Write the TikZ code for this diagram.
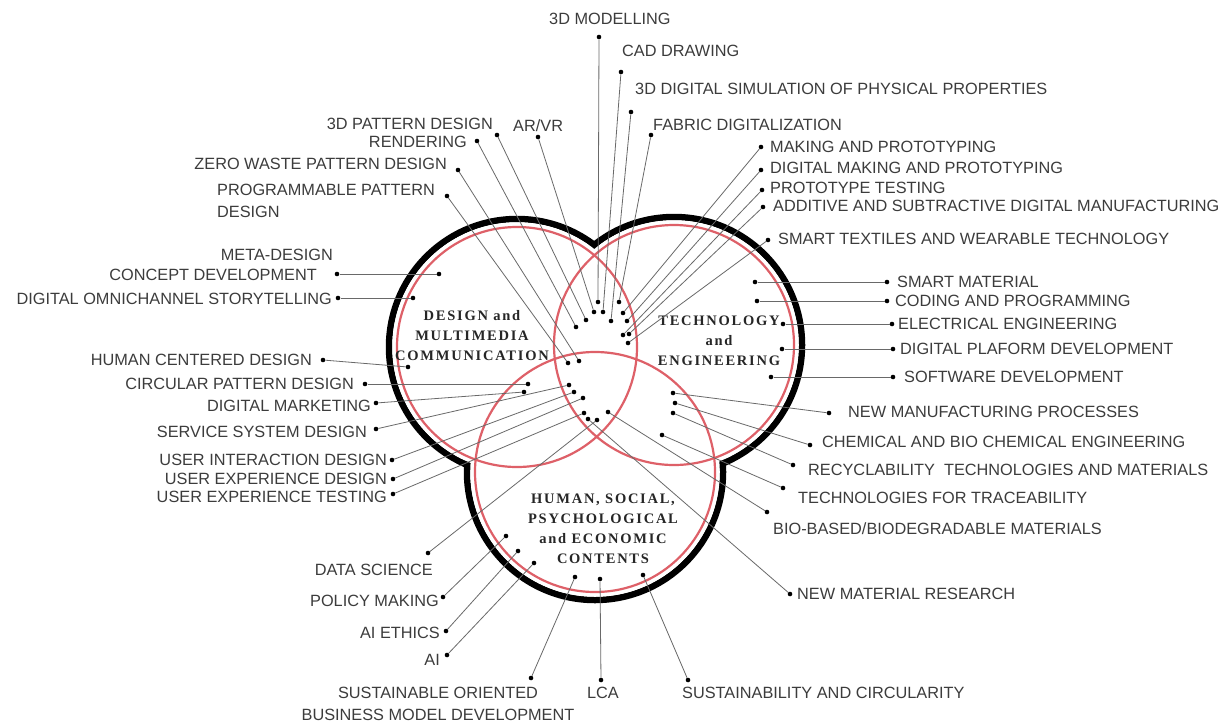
\documentclass[tikz,border=0pt]{standalone}
\usepackage{fontspec}
\setmainfont{Liberation Sans}
\newfontfamily\fieldfont[LetterSpace=12]{Liberation Serif}
\definecolor{ringred}{RGB}{222,96,104}
\definecolor{labelgray}{RGB}{60,60,60}
\definecolor{wiregray}{RGB}{105,105,105}
\begin{document}
\begin{tikzpicture}[x=1pt,y=-1pt,
  lbl/.style={font=\fontsize{16.3}{21}\selectfont, text=labelgray, inner sep=0pt, text height=11.7pt, text depth=0pt},
  lblmulti/.style={font=\fontsize{16.3}{22}\selectfont, text=labelgray, inner sep=0pt},
  ldot/.style={circle, fill=black, inner sep=0pt, minimum size=4.6pt},
  wire/.style={draw=wiregray, line width=0.8pt},
  ring/.style={draw=ringred, line width=2.2pt},
  hull/.style={draw=black, line width=6.5pt},
  field/.style={font=\fieldfont\bfseries\fontsize{14.5}{20}\selectfont, text=black!85, align=center, inner sep=0pt, anchor=north}]

\useasboundingbox (0,0) rectangle (1220,726);
\fill[white] (0,0) rectangle (1220,726);

% centres of the three fields
\coordinate (cD) at (517,347);
\coordinate (cT) at (674,345);
\coordinate (cH) at (595,472);

% thick outer contour: union of the three discs
\foreach \c in {cD,cT,cH} \draw[hull] (\c) circle[radius=128pt];
\foreach \c in {cD,cT,cH} \fill[white] (\c) circle[radius=124.75pt];

% the three fields
\foreach \c in {cD,cT,cH} \draw[ring] (\c) circle[radius=120pt];

% field titles
\node[field] (fD) at (472,310.2) {DESIGN and\\MULTIMEDIA\\COMMUNICATION};
\node[field] (fT) at (719,316) {TECHNOLOGY\\and\\ENGINEERING};
\node[field] (fH) at (603,493.2) {HUMAN, SOCIAL,\\PSYCHOLOGICAL\\and ECONOMIC\\CONTENTS};

% connectors: outer dot -> inner dot
\foreach \n/\ax/\ay/\bx/\by in {
  mod/599/37/598/302, cad/621/72/603/312, sim/631/112/611/321, fab/651/135/619/302,
  pat/497/135/586/320, ren/477/141/576/327, arvr/538/137/594/312, zero/458/170/579/361,
  prog/447/196/568/363,
  mak/761/147/623/313, dmak/761/170/627/321, ptest/762/190/623/335, add/763/207/629/334,
  stx/768/240/628/343,
  smat/887/282/755/282, cod/887/301/757/301, elec/892/324/783/324, dplat/893/349/782/349,
  soft/893/377/771/377, nman/829/413/673/393, chem/810/445/675/403, recy/793/465/673/413,
  trace/783/488/662/435, bio/767/512/608/412, nmr/790/594/588/419,
  sus/531/678/575/577, lca/601/680/600/579, sc/688/680/643/575,
  ds/428/553/597/420, pol/443/597/506/536, aie/446/631/518/551, ai/447/655/534/563,
  conc/337/274/439/274, omni/338/298/413/298, hcd/323/360/408/367,
  circ/365/384/528/384, dm/376/403/524/392, ssd/376/429/569/385,
  uid/392/460/574/392, uxd/393/479/583/398, uxt/393/494/584/413}
{
  \node[ldot] (o\n) at (\ax,\ay) {};
  \node[ldot] (i\n) at (\bx,\by) {};
  \draw[wire] (o\n) -- (i\n);
}

% top
\node[lbl, anchor=west] (tmod) at (549,19) {3D MODELLING};
\node[lbl, anchor=west] (tcad) at (622,51) {CAD DRAWING};
\node[lbl, anchor=west] (tsim) at (635,89) {3D DIGITAL SIMULATION OF PHYSICAL PROPERTIES};
\node[lbl, anchor=west] (tfab) at (653,125) {FABRIC DIGITALIZATION};
\node[lbl, anchor=east] (tpat) at (493,124) {3D PATTERN DESIGN};
\node[lbl, anchor=east] (tren) at (467,142) {RENDERING};
\node[lbl, anchor=west] (tarvr) at (513,126) {AR/VR};
\node[lbl, anchor=east] (tzero) at (447,164) {ZERO WASTE PATTERN DESIGN};
\node[lblmulti, anchor=north west, align=left] (tprog) at (217,184.3) {PROGRAMMABLE PATTERN\\DESIGN};

% top right
\node[lbl, anchor=west] (tmak) at (770,147) {MAKING AND PROTOTYPING};
\node[lbl, anchor=west] (tdmak) at (770,168) {DIGITAL MAKING AND PROTOTYPING};
\node[lbl, anchor=west] (tptest) at (770,188) {PROTOTYPE TESTING};
\node[lbl, anchor=west] (tadd) at (773,206) {ADDITIVE AND SUBTRACTIVE DIGITAL MANUFACTURING};
\node[lbl, anchor=west] (tstx) at (778,239) {SMART TEXTILES AND WEARABLE TECHNOLOGY};

% right
\node[lbl, anchor=west] (tsmat) at (897,282) {SMART MATERIAL};
\node[lbl, anchor=west] (tcod) at (895,301) {CODING AND PROGRAMMING};
\node[lbl, anchor=west] (telec) at (898,324) {ELECTRICAL ENGINEERING};
\node[lbl, anchor=west] (tdplat) at (900,349) {DIGITAL PLAFORM DEVELOPMENT};
\node[lbl, anchor=west] (tsoft) at (904,377) {SOFTWARE DEVELOPMENT};
\node[lbl, anchor=west] (tnman) at (848,412) {NEW MANUFACTURING PROCESSES};
\node[lbl, anchor=west] (tchem) at (822,442) {CHEMICAL AND BIO CHEMICAL ENGINEERING};
\node[lbl, anchor=west] (trecy) at (808,470) {RECYCLABILITY \ TECHNOLOGIES AND MATERIALS};
\node[lbl, anchor=west] (ttrace) at (798,498) {TECHNOLOGIES FOR TRACEABILITY};
\node[lbl, anchor=west] (tbio) at (773,529) {BIO-BASED/BIODEGRADABLE MATERIALS};
\node[lbl, anchor=west] (tnmr) at (797,594) {NEW MATERIAL RESEARCH};

% bottom
\node[lblmulti, anchor=north, align=center] (tsus) at (438,687.3) {SUSTAINABLE ORIENTED\\BUSINESS MODEL DEVELOPMENT};
\node[lbl, anchor=center] (tlca) at (603,693) {LCA};
\node[lbl, anchor=west] (tsc) at (682,693) {SUSTAINABILITY AND CIRCULARITY};
\node[lbl, anchor=east] (tds) at (433,570) {DATA SCIENCE};
\node[lbl, anchor=east] (tpol) at (439,601) {POLICY MAKING};
\node[lbl, anchor=east] (taie) at (440,633) {AI ETHICS};
\node[lbl, anchor=east] (tai) at (440,660) {AI};

% left
\node[lbl, anchor=east] (tmeta) at (333,255) {META-DESIGN};
\node[lbl, anchor=east] (tconc) at (317,275) {CONCEPT DEVELOPMENT};
\node[lbl, anchor=east] (tomni) at (332,299) {DIGITAL OMNICHANNEL STORYTELLING};
\node[lbl, anchor=east] (thcd) at (312,360) {HUMAN CENTERED DESIGN};
\node[lbl, anchor=east] (tcirc) at (354,384) {CIRCULAR PATTERN DESIGN};
\node[lbl, anchor=east] (tdm) at (371,406) {DIGITAL MARKETING};
\node[lbl, anchor=east] (tssd) at (367,432) {SERVICE SYSTEM DESIGN};
\node[lbl, anchor=east] (tuid) at (387,460) {USER INTERACTION DESIGN};
\node[lbl, anchor=east] (tuxd) at (387,479) {USER EXPERIENCE DESIGN};
\node[lbl, anchor=east] (tuxt) at (387,497) {USER EXPERIENCE TESTING};
\end{tikzpicture}
\end{document}
